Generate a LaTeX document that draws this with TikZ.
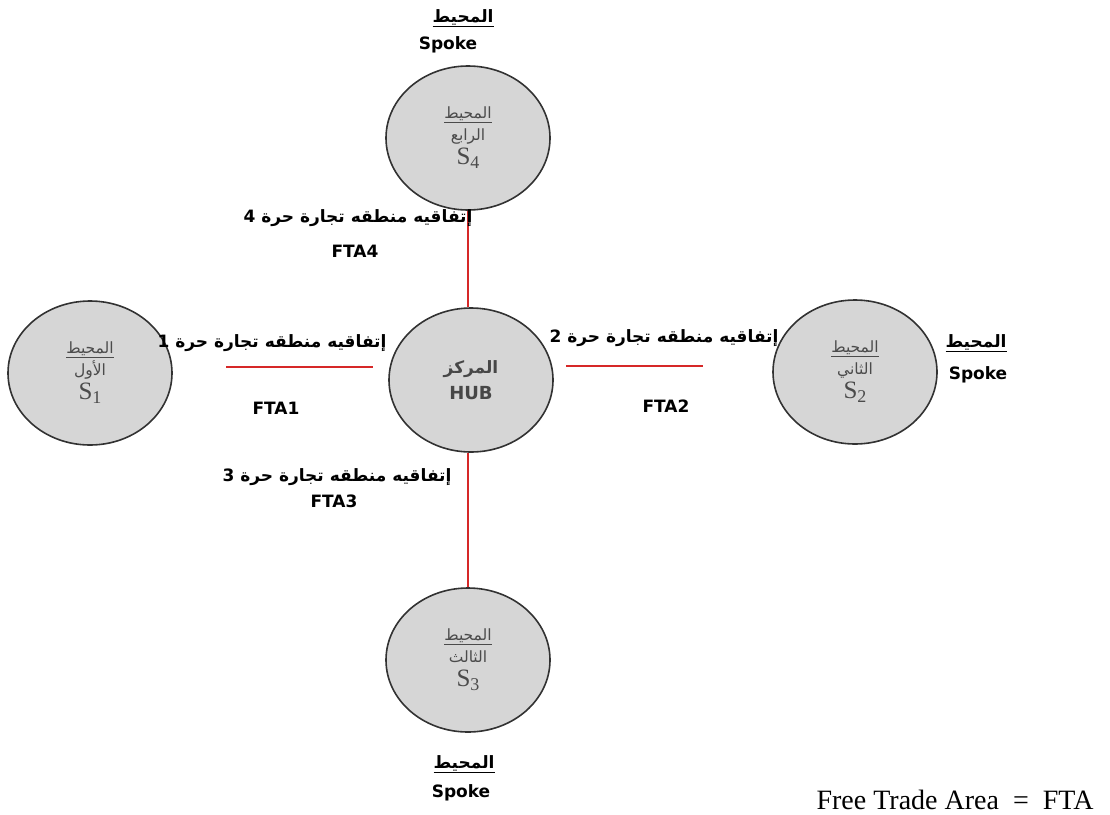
\documentclass[tikz,border=0pt]{standalone}
\usepackage{fontspec}
\setmainfont{Liberation Serif}
\newfontfamily\arabicfont[Script=Arabic]{DejaVu Sans}
\newfontfamily\labelsans{DejaVu Sans}
\TeXXeTstate=1
\usetikzlibrary{shapes.geometric}

\definecolor{circfill}{RGB}{214,214,214}
\definecolor{circedge}{RGB}{50,50,50}
\definecolor{innergray}{RGB}{75,75,75}
\definecolor{ftared}{RGB}{214,40,40}

% right-to-left Arabic text, plain and underlined
\newcommand\ar[1]{{\arabicfont\beginR #1\endR}}
\newcommand\arul[1]{\underline{\ar{#1}}}
% spoke index such as S4
\newcommand\spk[1]{{\fontsize{25}{25}\selectfont S\raisebox{-4pt}{\fontsize{18}{18}\selectfont #1}}}

\begin{document}
\begin{tikzpicture}[x=1pt,y=-1pt,
  spokecirc/.style={ellipse, draw=circedge, fill=circfill, line width=1.6pt,
    minimum width=164pt, minimum height=144pt, inner sep=0pt, align=center,
    text=innergray, font=\fontsize{15.5}{22}\selectfont},
  ftaline/.style={draw=ftared, line width=2pt},
  lab/.style={font=\fontsize{17}{20}\selectfont\bfseries, align=center, inner sep=0pt},
  latinlab/.style={font=\labelsans\bfseries\fontsize{17}{20}\selectfont, inner sep=0pt}]
\useasboundingbox (0,0) rectangle (1110,814);

% hub and the four spokes
\node[spokecirc, text=black!72] (hub) at (471,380)
  {{\bfseries\fontsize{17}{20}\selectfont\ar{المركز}}\\[4pt]{\labelsans\bfseries\fontsize{18}{20}\selectfont HUB}};
\node[spokecirc] (s1) at (90,373) {\arul{المحيط}\\\ar{الأول}\\[2pt]\spk{1}};
\node[spokecirc] (s2) at (855,372) {\arul{المحيط}\\\ar{الثاني}\\[2pt]\spk{2}};
\node[spokecirc] (s3) at (468,660) {\arul{المحيط}\\\ar{الثالث}\\[2pt]\spk{3}};
\node[spokecirc] (s4) at (468,138) {\arul{المحيط}\\\ar{الرابع}\\[2pt]\spk{4}};

% free trade agreements between the hub and each spoke
\coordinate (l1a) at (226,367);
\coordinate (l1b) at (373,367);
\coordinate (l2a) at (566,366);
\coordinate (l2b) at (703,366);
\draw[ftaline] (s4.south) -- (s4.south |- hub.north);
\draw[ftaline] (l1a) -- (l1b);
\draw[ftaline] (l2a) -- (l2b);
\draw[ftaline] (hub.south -| s3.north) -- (s3.north);

% agreement labels
\node[lab] (a4) at (358,218) {\ar{إتفاقيه منطقه تجارة حرة 4}};
\node[latinlab] (f4) at (355,251) {FTA4};
\node[lab] (a1) at (272,343) {\ar{إتفاقيه منطقه تجارة حرة 1}};
\node[latinlab] (f1) at (276,408) {FTA1};
\node[lab] (a2) at (664,338) {\ar{إتفاقيه منطقه تجارة حرة 2}};
\node[latinlab] (f2) at (666,406) {FTA2};
\node[lab] (a3) at (337,477) {\ar{إتفاقيه منطقه تجارة حرة 3}};
\node[latinlab] (f3) at (334,501) {FTA3};

% spoke captions
\node[lab] (t4a) at (463,18) {\underline{\ar{المحيط}}};
\node[latinlab] (t4b) at (448,45) {Spoke};
\node[lab] (t2a) at (976,343) {\underline{\ar{المحيط}}};
\node[latinlab] (t2b) at (978,375) {Spoke};
\node[lab] (t3a) at (464,764) {\underline{\ar{المحيط}}};
\node[latinlab] (t3b) at (461,793) {Spoke};

% legend
\node[inner sep=0pt, font=\fontsize{28}{28}\selectfont] (legend) at (955,800)
  {Free Trade Area~~=~~FTA};
\end{tikzpicture}
\end{document}
